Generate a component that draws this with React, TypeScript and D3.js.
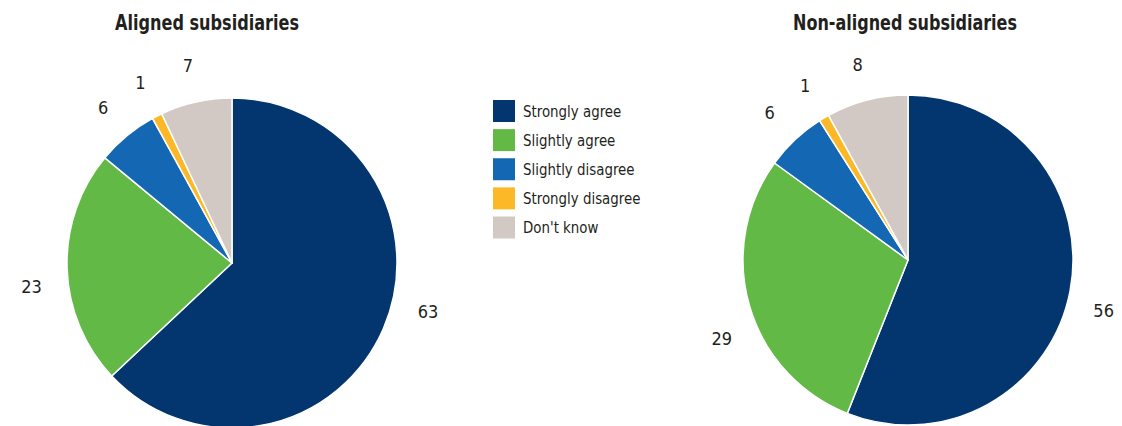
import React from "react";
import * as d3 from "d3";

const categories = ["Strongly agree", "Slightly agree", "Slightly disagree", "Strongly disagree", "Don't know"];
const alignedValues = [63, 23, 6, 1, 7];
const nonAlignedValues = [56, 29, 6, 1, 8];
const chartTitles = ["Aligned subsidiaries", "Non-aligned subsidiaries"];
const colors = ["#03366f", "#62b946", "#1467b2", "#fdb827", "#d3c9c4"];

// label angle nudges (degrees) — layout only
const alignedNudge = [-9.4, -5, 0, 0, 0];
const nonAlignedNudge = [3.6, -6.6, 0, 0, 0];

const FONT = "'Liberation Sans Narrow', 'Arial Narrow', 'DejaVu Sans Condensed', sans-serif";
const TEXT = "#231f20";

type PieProps = { values: number[]; cx: number; cy: number; r: number; title: string; titleX: number; titleW: number; nudges: number[] };

function Pie({ values, cx, cy, r, title, titleX, titleW, nudges }: PieProps) {
  const pie = d3.pie<number>().sort(null).value((d) => d)(values);
  const arc = d3.arc<d3.PieArcDatum<number>>().innerRadius(0).outerRadius(r);
  const labelR = r + 37;
  return (
    <g>
      <text x={titleX - titleW / 2} y={30} textLength={titleW} lengthAdjust="spacingAndGlyphs" fontFamily={FONT} fontWeight="bold" fontSize={21} fill={TEXT}>
        {title}
      </text>
      <g transform={`translate(${cx},${cy})`}>
        {pie.map((p, i) => (
          <path key={i} d={arc(p) || ""} fill={colors[i]} stroke="#fff" strokeWidth={1.5} strokeLinejoin="round" />
        ))}
        {pie.map((p, i) => {
          const a = (p.startAngle + p.endAngle) / 2 + (nudges[i] * Math.PI) / 180;
          const x = labelR * Math.sin(a);
          const y = -labelR * Math.cos(a);
          return (
            <text key={"l" + i} x={x} y={y} dy="0.35em" textAnchor="middle" fontFamily={FONT} fontSize={18} fill={TEXT}>
              {p.data}
            </text>
          );
        })}
      </g>
    </g>
  );
}

export default function App() {
  const W = 1122, H = 426;
  const legendY = d3.scalePoint<string>().domain(categories).range([111, 227.5]);
  return (
    <svg width={W} height={H} style={{ position: "absolute", left: 0, top: 0, display: "block" }}>
      <rect width={W} height={H} fill="#fff" />
      <Pie values={alignedValues} cx={232} cy={263} r={165} title={chartTitles[0]} titleX={207} titleW={184} nudges={alignedNudge} />
      <Pie values={nonAlignedValues} cx={908} cy={260} r={165} title={chartTitles[1]} titleX={905} titleW={224} nudges={nonAlignedNudge} />
      <g>
        {categories.map((c, i) => (
          <g key={c} transform={`translate(493,${legendY(c)})`}>
            <rect x={0} y={-11} width={22} height={22} fill={colors[i]} />
            <text x={30} y={0} dy="0.35em" fontFamily={FONT} fontSize={16} fill={TEXT} transform="translate(30,0) scale(0.93,1) translate(-30,0)">
              {c}
            </text>
          </g>
        ))}
      </g>
    </svg>
  );
}
